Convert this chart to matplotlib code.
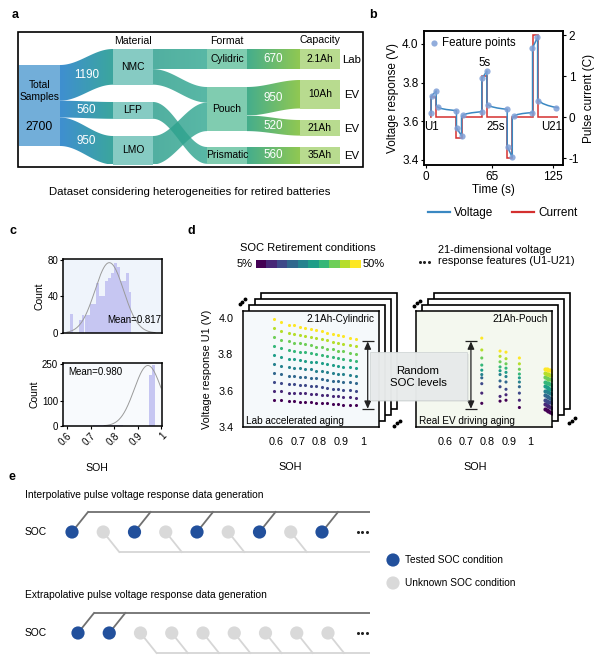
import numpy as np
import matplotlib
matplotlib.use('Agg')
import matplotlib.pyplot as plt
from matplotlib.patches import Rectangle, Polygon, Circle, FancyBboxPatch
from matplotlib.colors import LinearSegmentedColormap
from matplotlib.lines import Line2D

plt.rcParams['font.family'] = ['Liberation Sans', 'DejaVu Sans']
plt.rcParams['axes.linewidth'] = 1.1

# ---------------- data ----------------
# a: sankey
total_n = 2700
mat_names = ['NMC', 'LFP', 'LMO']
mat_vals = [1190, 560, 950]
fmt_names = ['Cylidric', 'Pouch', 'Prismatic']
fmt_vals = [670, 1470, 560]
cap_names = ['2.1Ah', '10Ah', '21Ah', '35Ah']
cap_vals = [670, 950, 520, 560]
cap_source = ['Lab', 'EV', 'EV', 'EV']
mat_fmt_links = [('NMC', 'Cylidric', 670), ('NMC', 'Pouch', 520),
                 ('LMO', 'Pouch', 950), ('LFP', 'Prismatic', 560)]
fmt_cap_links = [('Cylidric', '2.1Ah', 670), ('Pouch', '10Ah', 950),
                 ('Pouch', '21Ah', 520), ('Prismatic', '35Ah', 560)]

# b: pulse test
volt_t = [5, 5, 10, 10, 12, 15, 20, 25, 30,
          30, 35, 35, 37, 40, 45, 50, 55,
          55, 60, 60, 62, 65, 70, 75, 80,
          80, 85, 85, 87, 90, 95, 100, 105,
          105, 110, 110, 112, 115, 120, 125, 130]
volt_v = [3.645, 3.728, 3.757, 3.680, 3.672, 3.666, 3.661, 3.658, 3.655,
          3.567, 3.525, 3.625, 3.633, 3.639, 3.644, 3.647, 3.650,
          3.820, 3.860, 3.690, 3.682, 3.675, 3.669, 3.665, 3.662,
          3.470, 3.414, 3.618, 3.628, 3.635, 3.640, 3.643, 3.645,
          3.980, 4.035, 3.715, 3.703, 3.692, 3.682, 3.675, 3.670]
fp_t = [5, 5.5, 10, 11.5, 30, 30.5, 35, 36.5, 55, 55.5, 60, 61.5,
        80, 80.5, 85, 86.5, 104, 104.5, 109, 110.5, 128]
fp_v = [3.645, 3.730, 3.757, 3.675, 3.655, 3.565, 3.525, 3.633, 3.650, 3.822, 3.860, 3.685,
        3.662, 3.468, 3.415, 3.628, 3.645, 3.980, 4.035, 3.705, 3.670]
pulse_edges = [4, 5, 10, 30, 35, 55, 60, 80, 85, 105, 110, 130]
pulse_level = [0, 0.5, 0, -0.5, 0, 1, 0, -1, 0, 2, 0]

# c: SOH histograms
lab_soh = [0.618, 0.656, 0.668, 0.681, 0.693, 0.706, 0.718, 0.731, 0.743, 0.756,
           0.768, 0.781, 0.793, 0.806, 0.818, 0.831, 0.843, 0.856, 0.868]
lab_cnt = [21, 14, 20, 20, 20, 32, 32, 55, 40, 40, 57, 60, 66, 77, 72, 57, 57, 66, 45]
ev_soh = [0.718, 0.731, 0.743, 0.756, 0.768, 0.781, 0.793, 0.806, 0.818, 0.831, 0.956, 0.968]
ev_cnt = [6, 6, 6, 3, 5, 4, 6, 3, 5, 4, 205, 245]

# d: U1 vs SOH for 10 SOC levels (5%..50%)
soc_levels = [5, 10, 15, 20, 25, 30, 35, 40, 45, 50]
lab_grid = [0.59, 0.625, 0.66, 0.685, 0.71, 0.735, 0.76, 0.785, 0.81, 0.835,
            0.86, 0.885, 0.91, 0.94, 0.97]
lab_u1 = [
    [3.551, 3.547, 3.541, 3.542, 3.538, 3.538, 3.535, 3.534, 3.530, 3.530, 3.526, 3.526, 3.522, 3.522, 3.519],
    [3.600, 3.595, 3.588, 3.588, 3.584, 3.584, 3.580, 3.579, 3.575, 3.574, 3.569, 3.568, 3.564, 3.563, 3.560],
    [3.649, 3.642, 3.634, 3.635, 3.629, 3.629, 3.624, 3.623, 3.618, 3.616, 3.611, 3.610, 3.605, 3.604, 3.600],
    [3.698, 3.690, 3.681, 3.681, 3.675, 3.675, 3.670, 3.667, 3.662, 3.660, 3.654, 3.652, 3.647, 3.645, 3.641],
    [3.747, 3.736, 3.730, 3.725, 3.723, 3.718, 3.716, 3.709, 3.708, 3.701, 3.699, 3.692, 3.690, 3.684, 3.681],
    [3.796, 3.785, 3.774, 3.774, 3.767, 3.765, 3.759, 3.756, 3.750, 3.746, 3.739, 3.736, 3.730, 3.727, 3.722],
    [3.845, 3.833, 3.821, 3.820, 3.813, 3.811, 3.804, 3.800, 3.793, 3.789, 3.782, 3.778, 3.771, 3.768, 3.762],
    [3.894, 3.879, 3.870, 3.864, 3.860, 3.854, 3.851, 3.842, 3.839, 3.831, 3.827, 3.818, 3.815, 3.807, 3.803],
    [3.943, 3.928, 3.914, 3.912, 3.904, 3.901, 3.894, 3.888, 3.881, 3.876, 3.867, 3.862, 3.854, 3.850, 3.843],
    [3.992, 3.975, 3.962, 3.958, 3.951, 3.946, 3.940, 3.932, 3.926, 3.918, 3.911, 3.903, 3.897, 3.890, 3.884],
]
ev_cols = [0.773, 0.859, 0.887, 0.95]
ev_u1 = [  # one list per column, 5% -> 50%
    [3.530, 3.586, 3.638, 3.670, 3.688, 3.712, 3.740, 3.779, 3.823, 3.888],
    [3.542, 3.568, 3.621, 3.653, 3.688, 3.709, 3.730, 3.758, 3.788, 3.817],
    [3.547, 3.577, 3.607, 3.647, 3.677, 3.700, 3.723, 3.747, 3.775, 3.811],
    [3.507, 3.547, 3.586, 3.621, 3.647, 3.670, 3.691, 3.717, 3.747, 3.779],
]
fresh_soh = [1.07, 1.078, 1.086, 1.094, 1.102]
fresh_u1 = [
    [3.500, 3.494, 3.489, 3.484, 3.478],
    [3.525, 3.520, 3.515, 3.509, 3.504],
    [3.550, 3.545, 3.540, 3.535, 3.530],
    [3.575, 3.570, 3.565, 3.560, 3.555],
    [3.599, 3.595, 3.590, 3.586, 3.581],
    [3.624, 3.619, 3.615, 3.611, 3.606],
    [3.648, 3.644, 3.640, 3.636, 3.632],
    [3.672, 3.669, 3.665, 3.661, 3.657],
    [3.697, 3.693, 3.690, 3.687, 3.683],
    [3.721, 3.718, 3.715, 3.712, 3.709],
]

# e: tested / unknown SOC conditions
interp_tested = [1, 0, 1, 0, 1, 0, 1, 0, 1]
extrap_tested = [1, 1, 0, 0, 0, 0, 0, 0, 0]

# ---------------- figure ----------------
W, H = 600, 662
fig = plt.figure(figsize=(6, 6.62), dpi=100)
ov = fig.add_axes([0, 0, 1, 1])
ov.axis('off')


def px_axes(l, t, r, b, **kw):
    return fig.add_axes([l / W, 1 - b / H, (r - l) / W, (b - t) / H], **kw)


def ellipsis(x, y):
    # three dots, like "..."
    ov.plot([x - 4.5, x, x + 4.5], [y, y, y], 'o', ms=2.2, color='#222222', mew=0)


def ribbon(ax, x0, x1, ya0, yb0, ya1, yb1, c0, c1, alpha=1.0):
    t = np.linspace(0, 1, 80)
    s = (1 - np.cos(np.pi * t)) / 2
    xs = x0 + (x1 - x0) * t
    top = ya0 + (ya1 - ya0) * s
    bot = yb0 + (yb1 - yb0) * s
    verts = np.column_stack([np.r_[xs, xs[::-1]], np.r_[top, bot[::-1]]])
    poly = Polygon(verts, closed=True, fc='none', ec='none')
    ax.add_patch(poly)
    cm = LinearSegmentedColormap.from_list('g', [c0, c1])
    im = ax.imshow(np.linspace(0, 1, 64)[None, :], cmap=cm, aspect='auto',
                   extent=(x0, x1, max(yb0, yb1), min(ya0, ya1)),
                   alpha=alpha, interpolation='bilinear', zorder=1)
    im.set_clip_path(poly)


# ---- panel a
scale = 0.03
nodes = {'Total': (19, 60, 65, total_n * scale)}
for n, v, top in zip(mat_names, mat_vals, [49, 102, 136]):
    nodes[n] = (113, 153, top, v * scale)
for n, v, top in zip(fmt_names, fmt_vals, [49, 87, 147]):
    nodes[n] = (207, 247, top, v * scale)
for n, v, top in zip(cap_names, cap_vals, [49, 80, 120, 147]):
    nodes[n] = (300, 340, top, v * scale)
out_off = {k: 0.0 for k in nodes}
in_off = {k: 0.0 for k in nodes}


def link(src, dst, v, c0, c1, alpha=1.0):
    sx0, sx1, st, sh = nodes[src]
    dx0, dx1, dt, dh = nodes[dst]
    h = v * scale
    y0 = st + out_off[src]
    out_off[src] += h
    y1 = dt + in_off[dst]
    in_off[dst] += h
    ribbon(ov, sx1, dx0, y0, y0 + h, y1, y1 + h, c0, c1, alpha)
    return (sx1 + dx0) / 2, (y0 + y1 + h) / 2


for m, v in zip(mat_names, mat_vals):
    x, y = link('Total', m, v, '#3f8fd0', '#3ba69e')
    ov.text(x, y, str(v), color='white', fontsize=8.4, ha='center', va='center', zorder=5)
for s_, d_, v in mat_fmt_links:
    link(s_, d_, v, '#2b9e8c', '#34a892', alpha=0.82)
for s_, d_, v in fmt_cap_links:
    x, y = link(s_, d_, v, '#45ad8c', '#90c852')
    ov.text(x, y, str(v), color='white', fontsize=8.4, ha='center', va='center', zorder=5)

node_col = {'Total': '#72aed9'}
node_col.update({n: '#86cbc3' for n in mat_names})
node_col.update({n: '#80ccb0' for n in fmt_names})
node_col.update({n: '#b8db8f' for n in cap_names})
for n, (x0, x1, top, h) in nodes.items():
    ov.add_patch(Rectangle((x0, top), x1 - x0, h, fc=node_col[n], ec='none', zorder=2))
    if n != 'Total':
        ov.text((x0 + x1) / 2, top + h / 2, n, fontsize=7.4, ha='center', va='center', zorder=5)
ov.text(40, 91, 'Total\nSamples', fontsize=7.4, ha='center', va='center', linespacing=1.35)
ov.text(39, 127, str(total_n), fontsize=8.7, ha='center', va='center')
for n, src in zip(cap_names, cap_source):
    x0, x1, top, h = nodes[n]
    ov.text(352, top + h / 2 + 1, src, fontsize=8.2, ha='center', va='center')
ov.text(133, 41, 'Material', fontsize=7.6, ha='center', va='center')
ov.text(227, 41, 'Format', fontsize=7.6, ha='center', va='center')
ov.text(320, 40, 'Capacity', fontsize=7.6, ha='center', va='center')
ov.add_patch(Rectangle((18, 32), 345, 135, fc='none', ec='black', lw=1.2, zorder=6))
ov.text(190, 192, 'Dataset considering heterogeneities for retired batteries',
        fontsize=8.2, ha='center', va='center')

# panel letters
for lab, (x, y) in zip('abcde', [(15, 15), (373, 15), (13, 231), (191, 231), (12, 477)]):
    ov.text(x, y, lab, fontsize=9, fontweight='bold', ha='center', va='center')

# ---- panel b
vcol, icol = '#3a88c2', '#d4302f'
axb = px_axes(424, 31, 563, 165)
axb.plot(volt_t, volt_v, color=vcol, lw=1.1, zorder=3)
fp = axb.scatter(fp_t, fp_v, s=20, color='#7f9fd6', alpha=0.85, zorder=4, lw=0)
axb.set_xlim(-2, 135)
axb.set_ylim(3.374, 4.067)
axb.set_xticks([0, 65, 125])
axb.set_yticks([3.4, 3.6, 3.8, 4.0])
axb.set_yticklabels(['3.4', '3.6', '3.8', '4.0'])
axb.tick_params(labelsize=8.5, length=2, pad=2)
axb.set_xlabel('Time (s)', fontsize=8.5, labelpad=1)
axb.set_ylabel('Voltage response (V)', fontsize=8.5, labelpad=2)
ax2 = axb.twinx()
ax2.stairs(pulse_level, pulse_edges, baseline=None, color=icol, lw=1.1)
ax2.set_ylim(-1.17, 2.1)
ax2.set_yticks([-1, 0, 1, 2])
ax2.set_yticklabels(['-1', '0', '1', '2'])
ax2.tick_params(labelsize=8.5, length=2, pad=2)
ax2.set_ylabel('Pulse current (C)', fontsize=8.5, labelpad=3)
axb.set_zorder(ax2.get_zorder() + 1)
axb.patch.set_visible(False)
axb.legend([fp], ['Feature points'], loc='upper left', frameon=False, fontsize=8.3,
           handlelength=0.7, handletextpad=0.35, borderaxespad=0.2, borderpad=0.3)
for txt, (x, y) in zip(['U1', '5s', '25s', 'U21'],
                       [(5.5, 3.572), (58, 3.90), (69, 3.572), (123.5, 3.572)]):
    axb.text(x, y, txt, fontsize=8.3, ha='center', va='center')
fig.legend([Line2D([], [], color=vcol, lw=1.6), Line2D([], [], color=icol, lw=1.6)],
           ['Voltage', 'Current'], loc='center', bbox_to_anchor=(503 / W, 1 - 213 / H),
           ncol=2, frameon=False, fontsize=8.5, handlelength=1.8, columnspacing=1.6,
           handletextpad=0.4)

# ---- panel c


def hist_panel(ax, soh, cnt, face):
    soh = np.array(soh)
    cnt = np.array(cnt)
    ax.set_facecolor(face)
    ax.bar(soh, cnt, width=0.0125, color='#c4c4f2', alpha=0.95, lw=0)
    mu = np.average(soh, weights=cnt)
    sd = np.sqrt(np.average((soh - mu) ** 2, weights=cnt))
    xs = np.linspace(max(0.6, mu - 3.2 * sd), min(1.0, mu + 3.2 * sd), 200)
    ax.plot(xs, cnt.max() * np.exp(-0.5 * ((xs - mu) / sd) ** 2), color='#9a9a9a', lw=0.7)
    ax.set_xlim(0.583, 1.004)
    ax.tick_params(labelsize=7, length=2, pad=1.5)
    ax.set_ylabel('Count', fontsize=7.5, labelpad=2)


axc1 = px_axes(63, 259, 162, 333)
hist_panel(axc1, lab_soh, lab_cnt, '#eff4fb')
axc1.set_ylim(0, 81)
axc1.set_yticks([0, 40, 80])
axc1.set_xticks([])
axc1.text(0.99, 0.18, 'Mean=0.817', transform=axc1.transAxes, fontsize=7, ha='right', va='center')
axc2 = px_axes(63, 363, 162, 426)
hist_panel(axc2, ev_soh, ev_cnt, '#f8fafd')
axc2.set_ylim(0, 255)
axc2.set_yticks([0, 100, 250])
axc2.set_xticks([0.6, 0.7, 0.8, 0.9, 1.0])
axc2.set_xticklabels(['0.6', '0.7', '0.8', '0.9', '1'], rotation=45, ha='right',
                     rotation_mode='anchor')
axc2.text(0.05, 0.86, 'Mean=0.980', transform=axc2.transAxes, fontsize=7, ha='left', va='center')
ov.text(97, 468, 'SOH', fontsize=7.6, ha='center', va='center')

# ---- panel d
soc_cols = plt.cm.viridis(np.linspace(0, 1, len(soc_levels)))
for l, t, r, b in [(243, 311, 379, 427), (416, 311, 552, 427)]:
    for k in (3, 2, 1):
        ov.add_patch(Rectangle((l + 6 * k, t - 6 * k), r - l, b - t, fc='white', ec='black',
                               lw=1.2, zorder=3))
for pts in [[(239.5, 304), (242.3, 301.5), (245, 299)], [(393.5, 426), (396.8, 423.3), (400, 421)],
            [(413.5, 306), (416.7, 303.3), (420, 300.8)], [(568.5, 423.3), (571.7, 420.7), (575, 418.3)]]:
    ov.plot([p[0] for p in pts], [p[1] for p in pts], 'o', ms=1.8, color='black', zorder=4)

axL = px_axes(243, 311, 379, 427, facecolor='#f5f9fb')
for i, row in enumerate(lab_u1):
    axL.scatter(lab_grid, row, s=5, color=soc_cols[i], lw=0)
axL.set_xlim(0.448, 1.074)
axL.set_ylim(3.4, 4.037)
axL.set_xticks([0.6, 0.7, 0.8, 0.9, 1.0])
axL.set_xticklabels(['0.6', '0.7', '0.8', '0.9', '1'])
axL.set_yticks([3.4, 3.6, 3.8, 4.0])
axL.set_yticklabels(['3.4', '3.6', '3.8', '4.0'])
axL.tick_params(labelsize=7.8, length=0, pad=7)
axL.set_ylabel('Voltage response U1 (V)', fontsize=7.8, labelpad=4)
axL.text(0.97, 0.93, '2.1Ah-Cylindric', transform=axL.transAxes, fontsize=7.2, ha='right', va='center')
axL.text(0.02, 0.05, 'Lab accelerated aging', transform=axL.transAxes, fontsize=7.2, ha='left', va='center')

axR = px_axes(416, 311, 552, 427, facecolor='#f4f8ef')
for c, col in zip(ev_cols, ev_u1):
    axR.scatter([c] * len(col), col, s=5, color=soc_cols, lw=0)
for i, row in enumerate(fresh_u1):
    axR.scatter(fresh_soh, row, s=9, color=soc_cols[i], lw=0)
axR.set_xlim(0.4635, 1.1035)
axR.set_ylim(3.4, 4.037)
axR.set_xticks([0.6, 0.7, 0.8, 0.9, 1.0])
axR.set_xticklabels(['0.6', '0.7', '0.8', '0.9', '1'])
axR.set_yticks([])
axR.tick_params(labelsize=7.8, length=0, pad=7)
axR.text(0.97, 0.93, '21Ah-Pouch', transform=axR.transAxes, fontsize=7.2, ha='right', va='center')
axR.text(0.02, 0.05, 'Real EV driving aging', transform=axR.transAxes, fontsize=7.2, ha='left', va='center')
ov.text(290, 467, 'SOH', fontsize=7.8, ha='center', va='center')
ov.text(475, 467, 'SOH', fontsize=7.8, ha='center', va='center')

for ax, x in [(axL, 1.022), (axR, 0.722)]:
    ax.annotate('', xy=(x, 3.50), xytext=(x, 3.87),
                arrowprops=dict(arrowstyle='<|-|>,head_length=0.45,head_width=0.2',
                                color='#222222', lw=0.9, shrinkA=0, shrinkB=0))
    ax.plot([x, x], [3.50, 3.87], ls='none', marker='_', ms=8, mew=0.9, color='#222222')

axcb = px_axes(256, 260, 360, 268)
axcb.imshow(np.arange(len(soc_levels))[None, :], cmap='viridis', aspect='auto')
axcb.axis('off')
ov.text(308, 248, 'SOC Retirement conditions', fontsize=8.0, ha='center', va='center')
ov.text(253, 264, '%d%%' % soc_levels[0], fontsize=8.0, ha='right', va='center')
ov.text(363, 264, '%d%%' % soc_levels[-1], fontsize=8.0, ha='left', va='center')
ellipsis(424, 262)
ov.text(438, 255.5, '21-dimensional voltage\nresponse features (U1-U21)', fontsize=7.9,
        ha='left', va='center', linespacing=1.15)

# ---- panel e
blue, grey = '#22509c', '#d9d9d9'


def soc_row(y, x_start, flags):
    xs = x_start + 31.25 * np.arange(len(flags))
    up, dn = y - 20, y + 20
    t_x = [x for x, f in zip(xs, flags) if f]
    u_x = [x for x, f in zip(xs, flags) if not f]
    ov.plot([t_x[0] + 16, 370], [up, up], color='#707070', lw=1.3, solid_capstyle='butt')
    ov.plot([u_x[0] + 16, 370], [dn, dn], color='#d6d6d6', lw=1.3, solid_capstyle='butt')
    for x in t_x:
        ov.plot([x, x + 16], [y, up], color='#707070', lw=1.3)
    for x in u_x:
        ov.plot([x, x + 16], [y, dn], color='#d6d6d6', lw=1.3)
    for x, f in zip(xs, flags):
        ov.add_patch(Circle((x, y), 6.6, fc=blue if f else grey, ec='none', zorder=4))
    ellipsis(362, y)
    ov.text(25, y, 'SOC', fontsize=7.4, ha='left', va='center')


ov.text(25, 495, 'Interpolative pulse voltage response data generation', fontsize=7.4, ha='left', va='center')
soc_row(532, 72, interp_tested)
ov.text(25, 595, 'Extrapolative pulse voltage response data generation', fontsize=7.4, ha='left', va='center')
soc_row(633, 78, extrap_tested)
for y, c, txt in [(560, blue, 'Tested SOC condition'), (583, grey, 'Unknown SOC condition')]:
    ov.add_patch(Circle((393, y), 6.6, fc=c, ec='none'))
    ov.text(405, y, txt, fontsize=7.3, ha='left', va='center')

ov.set_xlim(0, W)
ov.set_ylim(H, 0)

# ---- "Random SOC levels" box on top
top = fig.add_axes([0, 0, 1, 1], zorder=10)
top.axis('off')
top.patch.set_visible(False)
top.add_patch(FancyBboxPatch((372, 354), 97, 48, boxstyle='square,pad=0', fc='#c9cfcf', ec='none', alpha=0.35))
top.add_patch(FancyBboxPatch((370, 352), 97, 48, boxstyle='square,pad=0', fc='#e8ebeb', ec='#d0d5d5', lw=0.6, alpha=0.97))
top.text(418, 377, 'Random\nSOC levels', fontsize=8.2, ha='center', va='center', linespacing=1.3)
top.set_xlim(0, W)
top.set_ylim(H, 0)

fig.savefig('out.png', dpi=100)
